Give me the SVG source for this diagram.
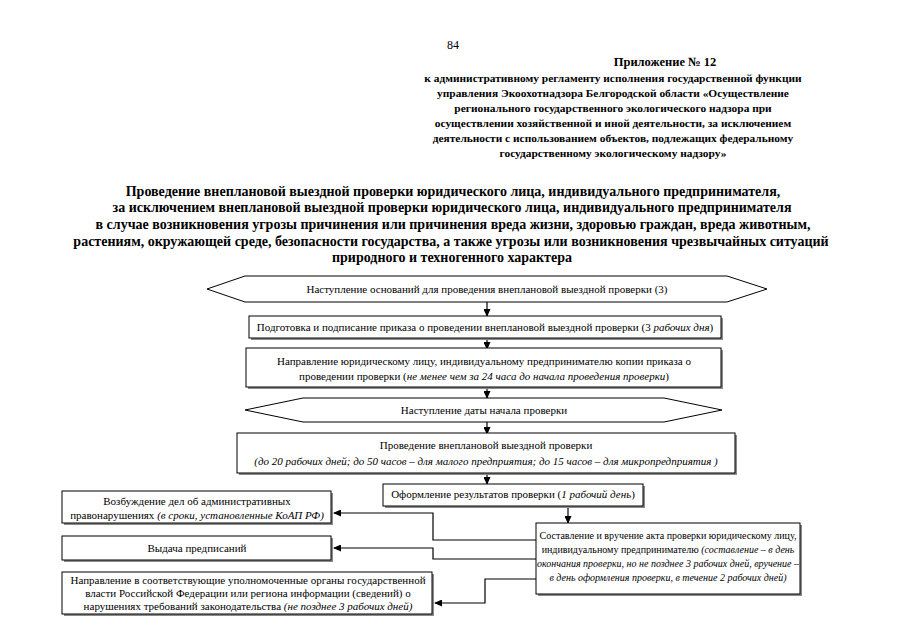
<svg xmlns="http://www.w3.org/2000/svg" width="905" height="640" viewBox="0 0 905 640">
<defs>
<style>
.hdr{font-family:"Liberation Serif","DejaVu Serif",serif;font-size:11.4px;font-weight:bold;fill:#000;text-anchor:middle}
.ttl{font-family:"Liberation Serif","DejaVu Serif",serif;font-size:14px;font-weight:bold;fill:#000;text-anchor:middle}
.t{font-family:"Liberation Serif","DejaVu Serif",serif;font-size:11px;fill:#000;text-anchor:middle}
.s{font-size:10px}
.i{font-style:italic}
.box{fill:#fff;stroke:#000;stroke-width:1}
.sh{fill:#8a8a8a;stroke:none}
.hex{fill:#fff;stroke:#000;stroke-width:1}
.ln{fill:none;stroke:#000;stroke-width:1.2}
</style>
<marker id="ah" markerWidth="8" markerHeight="7" refX="7" refY="3.5" orient="auto" markerUnits="userSpaceOnUse">
<path d="M0,0 L8,3.5 L0,7 Z" fill="#000"/>
</marker>
</defs>
<rect width="905" height="640" fill="#fff"/>

<g id="header">
<text x="453" y="49" style="font-family:'Liberation Serif','DejaVu Serif',serif;font-size:12px;fill:#000" text-anchor="middle">84</text>
<text class="hdr" x="665" y="66" style="font-size:12.5px">Приложение № 12</text>
<text class="hdr" x="613" y="82">к административному регламенту исполнения государственной функции</text>
<text class="hdr" x="613" y="97">управления Экоохотнадзора Белгородской области «Осуществление</text>
<text class="hdr" x="613" y="112">регионального государственного экологического надзора при</text>
<text class="hdr" x="613" y="127">осуществлении хозяйственной и иной деятельности, за исключением</text>
<text class="hdr" x="613" y="142">деятельности с использованием объектов, подлежащих федеральному</text>
<text class="hdr" x="613" y="157">государственному экологическому надзору»</text>
</g>

<g id="title">
<text class="ttl" x="453" y="196">Проведение внеплановой выездной проверки юридического лица, индивидуального предпринимателя,</text>
<text class="ttl" x="452" y="212">за исключением внеплановой выездной проверки юридического лица, индивидуального предпринимателя</text>
<text class="ttl" x="453" y="229">в случае возникновения угрозы причинения или причинения вреда жизни, здоровью граждан, вреда животным,</text>
<text class="ttl" x="451" y="246">растениям, окружающей среде, безопасности государства, а также угрозы или возникновения чрезвычайных ситуаций</text>
<text class="ttl" x="452" y="262">природного и техногенного характера</text>
</g>

<g id="connectors">
<line class="ln" x1="487" y1="302" x2="487" y2="316" marker-end="url(#ah)"/>
<line class="ln" x1="487" y1="338" x2="487" y2="349" marker-end="url(#ah)"/>
<line class="ln" x1="487" y1="387" x2="487" y2="398" marker-end="url(#ah)"/>
<line class="ln" x1="487" y1="422" x2="487" y2="434" marker-end="url(#ah)"/>
<line class="ln" x1="487" y1="473" x2="487" y2="484" marker-end="url(#ah)"/>
<line class="ln" x1="568" y1="506" x2="568" y2="523" marker-end="url(#ah)"/>
<polyline class="ln" points="536,540 433,540 433,513 334,513" marker-end="url(#ah)"/>
<polyline class="ln" points="536,559 433,559 433,548 334,548" marker-end="url(#ah)"/>
<polyline class="ln" points="536,579 485,579 485,603 435,603" marker-end="url(#ah)"/>
</g>

<g id="n1">
<polygon class="hex" points="207,289 245,276 727,276 767,289 727,302 245,302"/>
<text class="t" x="487" y="293">Наступление оснований для проведения внеплановой выездной проверки (3)</text>
</g>

<g id="n2">
<rect class="sh" x="251" y="318" width="472" height="22"/>
<rect class="box" x="249" y="316" width="472" height="22"/>
<text class="t" x="485" y="331">Подготовка и подписание приказа о проведении внеплановой выездной проверки (3 <tspan class="i">рабочих дня</tspan>)</text>
</g>

<g id="n3">
<rect class="sh" x="248" y="350" width="475" height="39"/>
<rect class="box" x="246" y="348" width="475" height="39"/>
<text class="t" x="484" y="365">Направление юридическому лицу, индивидуальному предпринимателю копии приказа о</text>
<text class="t" x="484" y="380">проведении проверки (<tspan class="i">не менее чем за 24 часа до начала проведения проверки</tspan>)</text>
</g>

<g id="n4">
<polygon class="hex" points="245,410 303,398 664,398 722,410 664,422 303,422"/>
<text class="t" x="484" y="414">Наступление даты начала проверки</text>
</g>

<g id="n5">
<rect class="sh" x="239" y="435" width="498" height="40"/>
<rect class="box" x="237" y="433" width="498" height="40"/>
<text class="t" x="486" y="449">Проведение внеплановой выездной проверки</text>
<text class="t i" x="486" y="465">(до 20 рабочих дней; до 50 часов – для малого предприятия; до 15 часов – для микропредприятия )</text>
</g>

<g id="n6">
<rect class="sh" x="385" y="486" width="260" height="22"/>
<rect class="box" x="383" y="484" width="260" height="22"/>
<text class="t" x="513" y="498">Оформление результатов проверки (<tspan class="i">1 рабочий день</tspan>)</text>
</g>

<g id="n7">
<rect class="sh" x="538" y="525" width="264" height="71"/>
<rect class="box" x="536" y="523" width="264" height="71"/>
<text class="t s" x="668" y="539">Составление и вручение акта проверки юридическому лицу,</text>
<text class="t s" x="668" y="553">индивидуальному предпринимателю <tspan class="i">(составление – в день</tspan></text>
<text class="t s i" x="668" y="567">окончания проверки, но не позднее 3 рабочих дней,  вручение –</text>
<text class="t s i" x="668" y="581">в день оформления проверки, в течение 2 рабочих дней)</text>
</g>

<g id="n8">
<rect class="sh" x="64" y="493" width="269" height="32"/>
<rect class="box" x="62" y="491" width="269" height="32"/>
<text class="t" x="197" y="505">Возбуждение дел об административных</text>
<text class="t" x="197" y="519">правонарушениях <tspan class="i">(в сроки, установленные КоАП РФ)</tspan></text>
</g>

<g id="n9">
<rect class="sh" x="64" y="538" width="269" height="24"/>
<rect class="box" x="62" y="536" width="269" height="24"/>
<text class="t" x="197" y="552">Выдача предписаний</text>
</g>

<g id="n10">
<rect class="sh" x="64" y="574" width="370" height="42"/>
<rect class="box" x="62" y="572" width="370" height="42"/>
<text class="t" x="248" y="584">Направление в соответствующие уполномоченные органы государственной</text>
<text class="t" x="248" y="597">власти Российской Федерации или региона информации (сведений) о</text>
<text class="t" x="248" y="610">нарушениях требований законодательства <tspan class="i">(не позднее 3 рабочих дней)</tspan></text>
</g>
</svg>
